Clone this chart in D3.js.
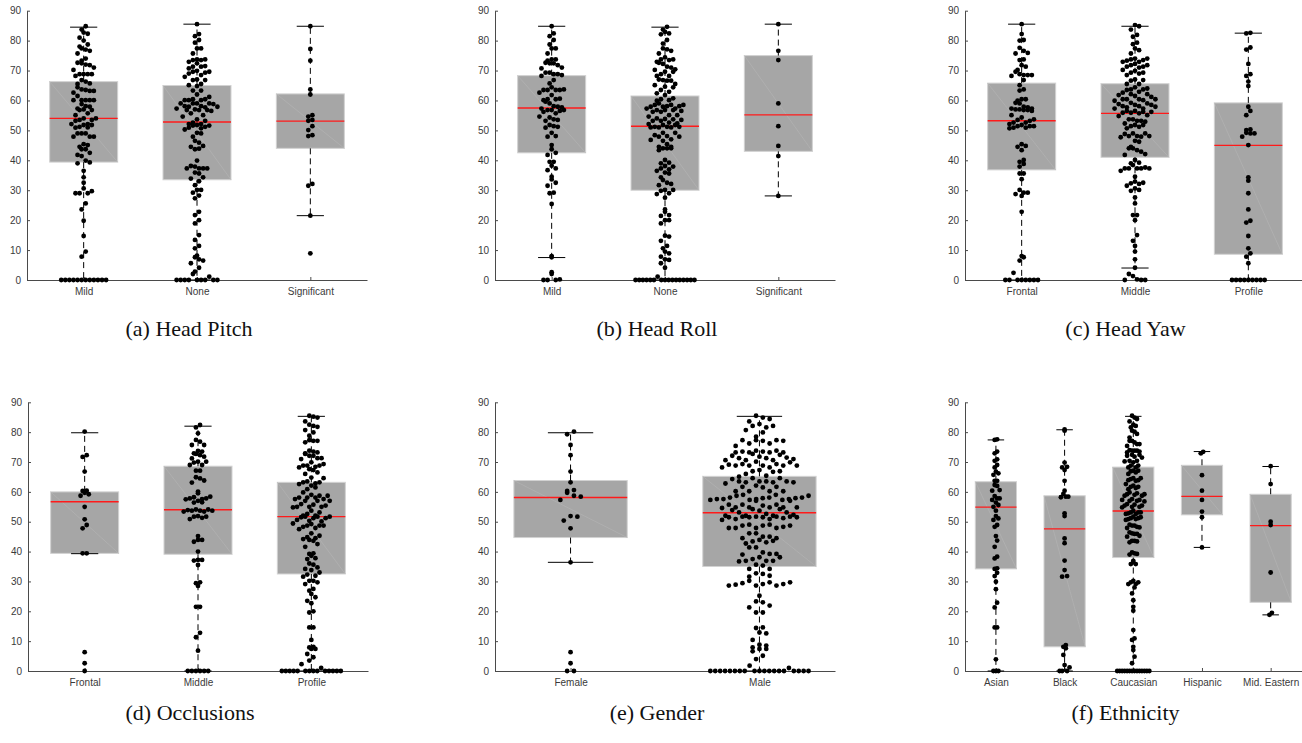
<!DOCTYPE html>
<html><head><meta charset="utf-8">
<script src="https://cdn.jsdelivr.net/npm/d3@7"></script>
<style>body{margin:0;background:#fff}svg{display:block}</style>
</head><body>
<svg id="chart" width="1302" height="743"></svg>
<script>
// ---------------- DATA ----------------
const yTicks = [0,10,20,30,40,50,60,70,80,90];
const Z = n => Array(n).fill(0);

const pitchCats = ["Mild","None","Significant"];
const pitchMild = [84.8,83.7,82.7,82.3,81,80,78.7,78,77,77.4,76.6,75.7,74,72.6,73.3,71.8,72,71,72.4,68.8,68.8,68.8,68.2,70.2,68.8,66.8,66.3,65.5,65.7,62.6,63.5,63.7,63.2,64.4,63.2,61.5,60.1,60.1,60.1,60.1,60.1,58.1,58.8,57.9,57,57.3,56.8,56.8,55.7,55.1,54,53.5,53.5,54,53.2,52.1,52.1,51.8,51.8,51.2,51,50.9,49,49,49,47.9,47.9,47.9,45.4,44.5,45.1,43.7,43.7,42.5,41.4,41.8,39.9,39,39.3,36.5,34.3,32.5,30.6,29.7,29,29,29,25.6,23.6,19.8,14.7,9.5,7.8,...Z(12)];
const pitchNone = [85.5,82.2,81.5,80.2,79.3,77.4,77.4,75.7,72.9,73.7,73.7,73.5,73.5,72.4,71.3,71.5,71.3,70.7,69.6,69.9,69.3,69.6,69,68.5,67.9,67,66.8,66.8,65.5,64.8,65.1,63.3,63.3,62,61.2,60.1,60.4,60.1,60.1,60.4,59,59,59,58.8,59,58.1,58.1,57.7,57.3,57.9,57.9,56.8,56.8,56.8,57,56.5,55.7,55.1,54.6,53.7,53.2,52.6,52.1,52.1,51.8,51.6,51.6,51.2,50.7,50.3,50.9,49.2,49,47.9,46.5,45.9,44.8,44.5,43.9,43.7,39.9,37.3,37.3,37.3,38.1,37.9,37.3,35.9,35.6,34.3,33.9,33,31.7,30.1,30.1,29.2,28.2,27.3,22.8,21.7,20,18.9,15,13.4,11.4,10.6,8.1,7.6,6.9,6.5,5.6,4.1,2.8,2,1.1,...Z(9)];
const pitchSig = [84.8,77.2,73.3,63.7,62,54.6,55.1,53.5,53.2,51.4,50.1,48.1,48.4,32.1,31.5,21.5,8.9];
// box stats per category: [q1, median, q3, lowerWhisker, upperWhisker]
const pitchStats = [[39.4,54,66.3,0,84.5],[33.5,52.8,65,0,85.5],[44,53.1,62.2,21.5,84.8]];

const rollCats = ["Mild","None","Significant"];
const rollMild = [84.8,81.5,82.4,80.2,78.7,77.4,77.4,75.7,73.7,73.7,73.3,72.6,72.4,71.8,71,72.4,70.7,69.3,69.3,68.5,68.8,68.8,68.2,66.8,65.7,64.4,63.7,63.5,63.5,63.5,62.6,63.5,61.8,60.6,60.4,60.4,59.6,60.1,59,58.1,56.8,57.3,56.8,56.5,56.8,57.7,57.9,55.7,56.2,54.6,54.3,53.7,53.5,53.2,51.8,51.2,51.4,50.9,49.2,48.1,47.9,45.1,43.7,42.5,41.8,39.5,39.5,38.2,37.3,36.7,34.5,33.6,32.5,31.5,29.2,29,25.4,8,7.6,2.6,2,0.2,0,0,0];
const rollNone = [84.6,83.7,82.9,82.4,82.1,80.2,79,77.4,77.1,76.6,75.7,73.7,74.4,73.7,73.5,72.9,72.6,72.2,71.3,71,70.2,70.4,69.6,69.6,68.8,68.2,68.2,67,66.6,66.8,66.6,65.5,65.1,64.6,64.4,63.5,62.9,62.4,61.8,60.1,60.7,60.4,59.9,59,58.5,58.5,58.5,58.1,57.3,57.3,57.9,57.9,58.1,56.8,56.2,56.2,56.8,56.8,56.5,55.1,55.1,54.6,54,53.2,53.5,53.2,53.8,53.7,52.6,52.3,51.8,52.1,51.8,51.2,51,51.2,51,51,51.2,49.2,49.2,48.4,47.9,47.9,48.1,47,46.8,46.5,45.4,44.5,44,44,44.5,44,43.4,40.1,39,39.2,38.1,37.9,37.3,35.6,36.5,37,35.9,32.5,33.4,34.3,31.7,32.1,30.1,29.8,30.1,29,28.7,27.5,23.6,22.8,21.7,21.4,20,18.9,20,14.8,14.5,13.1,11.4,10.6,9.5,8.9,7.8,6.7,6.9,5.6,4.1,1.1,...Z(16)];
const rollSig = [85.5,76.6,73.5,59,51.4,44.8,41.4,28.1];
const rollStats = [[42.5,57.5,68.3,7.5,84.8],[30,51.4,61.5,0,84.5],[43,55.2,75,28.1,85.5]];

const yawCats = ["Frontal","Middle","Profile"];
const yawFrontal = [85.5,82.2,80.2,80,75.9,76.6,77.6,75.7,73.7,73.5,71.3,71.8,70.2,69.6,68.5,68.8,68.5,68.5,68.2,66.8,65.1,63.7,63.3,60.4,59.9,60.4,59,59.2,57.7,57,57.9,57.3,57.3,57,56.8,56.5,56.8,55.1,54.3,53.2,52.6,52.1,52.6,53.5,53.7,51.8,51.4,50.9,51.4,51.4,50.7,50.9,44.8,44.5,45.4,43.4,40.1,39.5,38.8,37.9,35.6,35.6,33.7,29.2,28.1,28.7,30.1,29.2,22.8,8,7.6,6.5,2.4,...Z(8)];
const yawMiddle = [85.2,83.7,84.8,81.3,81.9,79.3,78.8,77.4,76.8,75.7,74,74,72.9,72.9,73.7,73.3,73.5,72.2,71.8,71.3,71.8,71,71.3,70.2,69.9,69,69.3,69.3,68.5,66.8,67,66.6,65.5,65.5,64.4,64,63.5,63.7,63.7,62.6,62.9,62.1,62.1,61.5,61.8,61.2,60.1,60.4,59.9,60.4,60.4,60.4,58.5,59,59.2,58.1,58.5,58.8,58.1,57.9,57.3,57.3,57.7,56.2,56.5,55.9,56.5,55.7,56.2,55.9,55.1,54.8,53.7,53.7,53.2,52.9,53.2,51.8,51.8,51.4,51.2,52.3,50.7,49,48.8,49,48.1,48.1,48.1,47.9,47.7,46.5,46.2,44,44,44.5,43.4,42.9,41.8,42.1,40.1,38.4,39.2,39,37.3,37.3,37.3,37.3,37.6,37.3,36.5,34.5,32.9,32.5,32.1,31.5,32.3,30.6,30.1,29.8,27.6,25.6,21.7,21.7,20,15,13.1,11.4,9.5,6.9,4.1,2,1.3,0.2,0,0,0];
const yawProfile = [82.6,82.4,77.7,77,72.2,68.8,68.2,64.8,66.3,57.9,56.5,55.1,47.9,49.2,49,50.3,50.1,49,45.1,33.2,34.3,29,23.6,19.2,19.8,14.7,10.6,8.9,7.8,5.6,...Z(9)];
const yawStats = [[36.8,53.2,65.8,0,85.5],[41,55.7,65.6,4,84.8],[8.6,45,59.2,0,82.5]];

const occCats = ["Frontal","Middle","Profile"];
const occFrontal = [80.2,72.3,71.7,66.8,59.7,59.2,60.4,58.7,60.3,55,50.8,48.9,47.8,39.4,39.4,6.3,2.6,0];
const occMiddle = [82.4,81.6,79.6,77.4,76.8,75.7,75.7,73.5,73.7,72.9,72.3,72.7,71.8,71.2,70.1,70.1,69.8,69,69,67.1,67.1,64.9,64.5,63.8,63.1,60.1,59.5,58.4,57.8,57.5,57.8,58.2,57.6,57,56.5,56.4,53.4,54.1,53.7,53.7,54.1,53.9,53.7,53.4,51.7,51.9,51.7,50.9,51.3,45.2,43.9,43.9,43.3,40,37,37.2,37.2,35.5,29.7,29.4,28.5,21.5,21.5,12.8,11.3,6.8,...Z(6)];
const occProfile = [85.5,84.9,85.2,83.6,82.5,81.8,79.9,80.7,82.1,77.1,76.6,78.8,77.1,77.3,73.8,72.9,71.3,71,72.1,73.5,71.3,73.2,72.7,72.1,69.3,68.8,68.2,68.4,69.9,68.8,68.8,67.6,67.3,66.5,66,64.6,64.8,63.2,62.8,62.6,63.2,63.5,62.1,61.5,60.9,59.8,59,58.7,58.1,57,58.1,57.6,58.7,58.1,57,57.6,57,55.9,55.4,55,55.7,54.8,55,55,53.7,53.1,52.6,52,51.7,52,51.2,51.7,51.5,51.2,51.7,50.3,50.6,49.2,48.7,48.3,48.7,49.4,50.1,48.7,47.5,47.9,44.5,44.2,46.1,43.6,43.9,44.8,45.3,42.5,41.6,39.2,38.6,37.8,39.4,37.5,36,35.6,34.2,34.7,33.8,33,31.9,31.6,32.3,30.2,29.1,29.7,30.2,27.5,25.8,26.9,24.7,23.5,22.7,19.6,20,14.6,14.6,10.4,8.1,7.9,7.4,7.4,5.7,4.6,3.5,2.3,1,...Z(14)];
const occStats = [[39.4,56.7,60,39.3,79.8],[39.1,54,68.6,0,82],[32.5,51.7,63.2,0,85.3]];

const genCats = ["Female","Male"];
const genFemale = [80.2,79.3,75.7,72.3,66.8,63.2,60.6,59.7,60.3,58.7,58.4,57.3,51.7,51.9,50.4,47.8,36.4,6.3,2.6,0,0];
const genMale = [85.5,84.9,84.4,83.6,82.1,82.7,81.6,82.1,79.9,80.7,78.5,77.3,76.2,77.3,77.1,77.1,76.2,75.4,77.3,73.8,72.4,71.5,73.8,73.5,73.2,73.2,72.7,73.5,73.2,72.1,73.2,71,70.6,71.3,70.6,71.3,71.8,70.6,70.1,68.8,68.8,68.8,69.9,69.1,68.2,69.3,69.3,68.8,68.2,68.8,66.9,67.3,66.7,66.9,65.4,64.6,66,65.1,64.3,63.5,63.2,63.5,63.5,64.6,62.8,63.2,63.2,63.5,61.7,61.5,62.1,61.7,59,57.6,60.2,60.2,57.3,57.9,58.1,58.7,57.9,58.1,57.6,58.7,57.6,57,58.1,57.3,60.2,59,57,57.3,60.2,57.6,55.7,54.2,53.1,54.8,55.7,54.8,54.2,54.8,54.6,55.7,53.9,54.8,53.1,53.7,54.8,55.4,51.7,51.7,52.6,52.3,51.5,51.2,52,51.7,51.5,52,51.5,50.9,50.6,51.5,51.7,50.9,52,47.9,47.9,47.9,47.9,49,48.7,48.7,48.3,48.7,49,45,46.1,46.1,44.5,44.5,43.6,45,43.4,43.1,43.9,42.7,41.4,41.4,39,36.9,37.5,39.7,39.2,38.1,39.2,38.1,36.9,35.6,36.7,34.2,34.2,36.9,35.3,32.7,31.9,29.7,29.4,29.1,28.6,28.6,28.6,32.5,29.7,31.6,29.1,30.2,28.9,25.2,23.3,23,21.9,21.3,19.6,19.6,14.6,14.4,12.9,12.6,10.4,8.5,7.9,7.4,8.8,7.4,6.6,4,5.1,1.8,1,...Z(19)];
const genStats = [[44.7,58.1,63.8,36.4,79.8],[35,53,65.2,0,85.3]];

const ethCats = ["Asian","Black","Caucasian","Hispanic","Mid. Eastern"];
const ethAsian = [77.6,77.4,73.5,72.9,70.9,70.4,69,68.2,66.8,66.2,65.7,62,62.3,63.7,63.7,60.6,60.4,58.6,57.8,57.8,57.3,56.4,55.6,55,53.7,51.9,51.1,50.6,48.9,48.3,45.2,43.7,41.6,38.3,37.7,34.4,34.2,32.9,31.8,29.9,27.4,22.9,21.3,14.6,14.6,3.9,0,0,0];
const ethBlack = [80.5,80.9,69.8,68.4,67.3,68.2,63.7,59.3,60.4,58.4,58.2,58.4,52.8,51.9,44.4,42.8,37,33.8,31.8,31.6,8.7,8.1,7.6,5.4,2,1.2,0,0,0];
const ethCauc = [85.5,84.4,84.9,83.6,82.5,82.1,81.6,80.5,80.2,79.4,78.2,77.1,76,77.1,76.6,76,75.4,73.8,74,73.8,73.5,73.2,73.8,72.1,72.4,71.8,71.5,72.4,70.4,69.9,70.2,70.4,68.8,68.2,68.8,68.2,67.1,66.9,66.5,66,67.1,64.6,63.9,63.7,64.3,63.9,64.6,62.6,61.7,62.1,61.3,61.7,60.9,59.8,59.2,59,58.7,59.5,58.7,59.2,57.6,57.3,57,56.8,57.3,57,55.9,55.4,55,54.8,55.7,55.4,55,53.7,53.1,52.6,52.8,53.1,52.6,53.1,51.7,51.2,50.9,50.6,51.5,50.9,51.2,48.7,48.1,49,48.3,47.9,48.7,46.4,45.9,46.1,45.3,45.9,45,43.6,43.4,43.1,43.6,39.7,39.2,39.4,39,36.9,35.8,36.4,35.8,29.7,29.1,29.7,30.2,29.1,28,26,23.7,21.5,20.2,13.7,10.9,10.4,8.1,7,4.8,2.6,...Z(14)];
const ethHisp = [73.4,72.9,65.6,60.4,57.3,53.4,51.5,41.4];
const ethME = [68.6,62.6,48.9,50,33,18.8,19.5];
const ethStats = [[34.2,54.9,63.4,0,77.4],[8.1,47.6,58.7,0,80.8],[38,53.6,68.3,0,85.3],[52.3,58.5,68.9,41.4,73.5],[23,48.7,59.2,18.8,68.5]];

// ---------------- LAYOUT ----------------
const svg = d3.select("#chart");
const rows = [{y0:280, y90:10.7, capY:336}, {y0:671, y90:402.3, capY:720}];
const panels = [
  {cats:pitchCats, groups:[pitchMild,pitchNone,pitchSig], stats:pitchStats, cap:"(a) Head Pitch", x0:27, x1:367, dom:[0.5,3.5], row:0},
  {cats:rollCats, groups:[rollMild,rollNone,rollSig], stats:rollStats, cap:"(b) Head Roll", x0:495, x1:835, dom:[0.5,3.5], row:0},
  {cats:yawCats, groups:[yawFrontal,yawMiddle,yawProfile], stats:yawStats, cap:"(c) Head Yaw", x0:965, x1:1305, dom:[0.5,3.5], row:0},
  {cats:occCats, groups:[occFrontal,occMiddle,occProfile], stats:occStats, cap:"(d) Occlusions", x0:28, x1:368, dom:[0.5,3.5], row:1},
  {cats:genCats, groups:[genFemale,genMale], stats:genStats, cap:"(e) Gender", x0:495, x1:835, dom:[0.6,2.4], row:1},
  {cats:ethCats, groups:[ethAsian,ethBlack,ethCauc,ethHisp,ethME], stats:ethStats, cap:"(f) Ethnicity", x0:965, x1:1305, dom:[0.55,5.5], row:1}
];

function gcd(a,b){ return b ? gcd(b, a % b) : a; }

// plotSpread-like layout: bin by value, spread each bin horizontally (spacing in x-data units)
function spread(vals, c, x, y){
  const pxU = x(1) - x(0);
  const binW = 2.6;
  const maxW = 0.52 * pxU;
  const step = 0.036 * pxU;
  const bins = d3.groups(vals, v => Math.floor(v / binW));
  const pts = [];
  bins.forEach(([k, arr]) => {
    const s = arr.slice().sort((a,b) => a - b);
    const n = s.length;
    const dx = Math.min(step, maxW / Math.max(1, n - 1));
    let st = Math.max(1, Math.round(n * 0.618));
    while (gcd(st, n) !== 1) st++;
    s.forEach((v, i) => {
      const slot = n === 1 ? 0 : (i * st) % n;
      pts.push({cx: x(c) + (slot - (n - 1) / 2) * dx, cy: y(v)});
    });
  });
  return pts;
}

panels.forEach(p => {
  const r = rows[p.row];
  const x = d3.scaleLinear().domain(p.dom).range([p.x0, p.x1]);
  const y = d3.scaleLinear().domain([0, 90]).range([r.y0, r.y90]);
  const g = svg.append("g");
  const hw = 0.3, cw = 0.12;

  // axes
  const ya = g.append("g").attr("transform", `translate(${p.x0},0)`)
    .call(d3.axisLeft(y).tickValues(yTicks).tickSize(-3).tickSizeOuter(0).tickPadding(6));
  const xa = g.append("g").attr("transform", `translate(0,${r.y0})`)
    .call(d3.axisBottom(x).tickValues(p.cats.map((d,i)=>i+1)).tickFormat(i => p.cats[i-1]).tickSize(-3).tickSizeOuter(0).tickPadding(8));
  [ya, xa].forEach(a => {
    a.select(".domain").attr("stroke", "#4a4a4a").attr("stroke-width", 1);
    a.selectAll(".tick line").attr("stroke", "#4a4a4a");
    a.selectAll(".tick text").attr("fill", "#3a3a3a").style("font-family", "Liberation Sans, Arial, sans-serif").style("font-size", "10px");
  });

  // boxes
  p.stats.forEach((s, i) => {
    const c = i + 1;
    const [q1, med, q3, lo, hi] = s;
    g.append("rect")
      .attr("x", x(c - hw)).attr("y", y(q3))
      .attr("width", x(c + hw) - x(c - hw)).attr("height", y(q1) - y(q3))
      .attr("fill", "#a6a6a6").attr("stroke", "#d2d2d2").attr("stroke-width", 1);
    g.append("line")
      .attr("x1", x(c - hw)).attr("y1", y(q3)).attr("x2", x(c + hw)).attr("y2", y(q1))
      .attr("stroke", "#b6b6b6").attr("stroke-width", 0.6);
    [[q3, hi], [q1, lo]].forEach(([a, b]) => {
      g.append("line").attr("x1", x(c)).attr("x2", x(c)).attr("y1", y(a)).attr("y2", y(b))
        .attr("stroke", "#000").attr("stroke-width", 1).attr("stroke-dasharray", "6,4");
    });
    [hi, lo].forEach(v => {
      g.append("line").attr("x1", x(c - cw)).attr("x2", x(c + cw)).attr("y1", y(v)).attr("y2", y(v))
        .attr("stroke", "#000").attr("stroke-width", 1);
    });
    g.append("line").attr("x1", x(c - hw)).attr("x2", x(c + hw)).attr("y1", y(med)).attr("y2", y(med))
      .attr("stroke", "#ff1a1a").attr("stroke-width", 1.4);
  });

  // points
  p.groups.forEach((vals, i) => {
    g.append("g").selectAll("circle").data(spread(vals, i + 1, x, y)).join("circle")
      .attr("cx", d => d.cx).attr("cy", d => d.cy).attr("r", 2.4).attr("fill", "#000");
  });

  // caption
  svg.append("text").attr("x", (p.x0 + Math.min(p.x1, 1302)) / 2 - 8).attr("y", r.capY)
    .attr("text-anchor", "middle")
    .style("font-family", "Liberation Serif, Times New Roman, serif").style("font-size", "22px")
    .attr("fill", "#111").text(p.cap);
});
</script>
</body></html>
